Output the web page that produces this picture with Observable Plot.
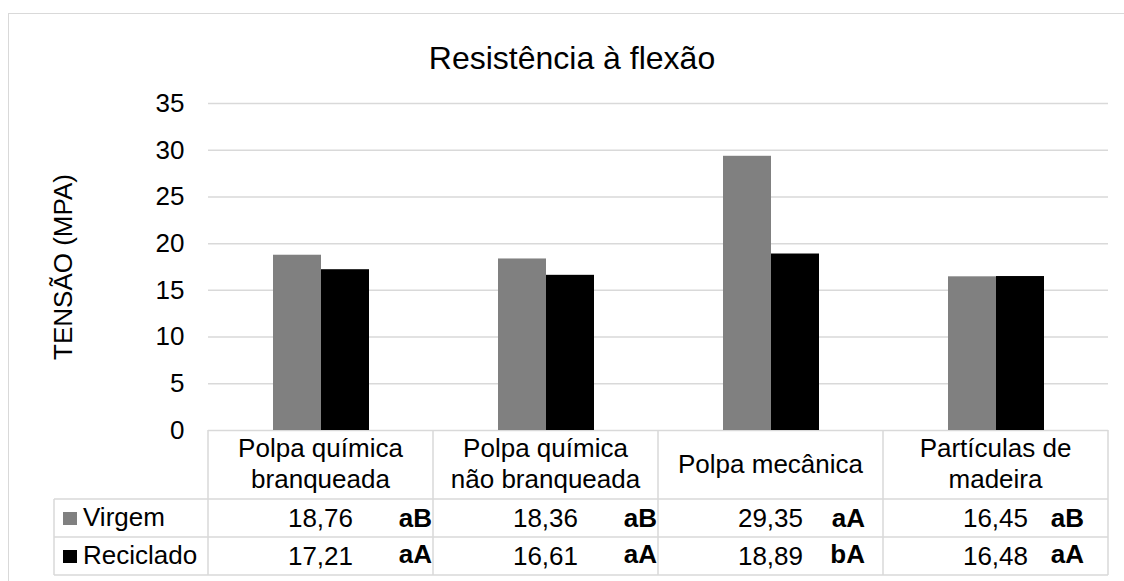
<!DOCTYPE html>
<html>
<head>
<meta charset="utf-8">
<script src="https://cdn.jsdelivr.net/npm/d3@7"></script>
<script src="https://cdn.jsdelivr.net/npm/@observablehq/plot@0.6"></script>
<style>
  html, body { margin: 0; padding: 0; background: #fff; overflow: hidden; width: 1124px; height: 581px; }
  #frame { position: absolute; left: 8px; top: 13px; width: 1300px; height: 800px;
           border-left: 1.5px solid #d9d9d9; border-top: 1.5px solid #d9d9d9; box-sizing: border-box; }
  #chart { position: absolute; left: 0; top: 0; }
</style>
</head>
<body>
<div id="frame"></div>
<div id="chart"></div>
<script>
// ---- data ----
const categories = ["Polpa química\nbranqueada", "Polpa química\nnão branqueada", "Polpa mecânica", "Partículas de\nmadeira"];
const series = ["Virgem", "Reciclado"];
const virgem = [18.76, 18.36, 29.35, 16.45];
const reciclado = [17.21, 16.61, 18.89, 16.48];
const virgemLetters = ["aB", "aB", "aA", "aB"];
const recicladoLetters = ["aA", "aA", "bA", "aA"];
const yTicks = [0, 5, 10, 15, 20, 25, 30, 35];
const titleText = "Resistência à flexão";
const yLabelText = "TENSÃO (MPA)";

// ---- style / layout ----
const seriesColors = ["#808080", "#000000"];
const FONT = "'Liberation Sans', Arial, Helvetica, sans-serif";
const GRID = "#d9d9d9";
const W = 1124, H = 581;
const headerH = 69, rowH = 38, legendLeft = 54;
const letterInset = [1, 1, 18, 24];

const data = categories.flatMap((c, i) => [
  {category: c, series: series[0], value: virgem[i]},
  {category: c, series: series[1], value: reciclado[i]}
]);

const chart = Plot.plot({
  width: W, height: H,
  marginLeft: 207, marginRight: 16, marginTop: 103, marginBottom: 151,
  style: {fontFamily: FONT, fontSize: "26px", color: "#000", background: "transparent", overflow: "visible"},
  fx: {domain: categories, padding: 0, axis: null, label: null},
  x: {domain: series, paddingInner: 0, paddingOuter: 1.32, axis: null},
  y: {domain: [0, 35], ticks: yTicks, tickSize: 0, tickPadding: 24, label: null},
  color: {domain: series, range: seriesColors},
  marks: [
    Plot.ruleY(yTicks, {stroke: GRID, strokeWidth: 1.5}),
    Plot.barY(data, {fx: "category", x: "series", y: "value", fill: "series"})
  ]
});
document.getElementById("chart").appendChild(chart);

// ---- table, title, axis label ----
const svg = d3.select(chart);
const fx = chart.scale("fx");
const ys = chart.scale("y");
const bw = fx.bandwidth;
const colLeft = categories.map(c => fx.apply(c));
const right = colLeft[colLeft.length - 1] + bw;
const zeroY = ys.apply(0);
const row1Top = zeroY + headerH;
const row2Top = row1Top + rowH;
const tableBottom = row2Top + rowH;

const g = svg.append("g").attr("font-family", FONT).attr("font-size", 26).attr("fill", "#000").attr("text-anchor", "start");
const lines = g.append("g").attr("stroke", GRID).attr("stroke-width", 1.5);
[...colLeft, right].forEach(x => lines.append("line").attr("x1", x).attr("x2", x).attr("y1", zeroY).attr("y2", tableBottom));
lines.append("line").attr("x1", legendLeft).attr("x2", legendLeft).attr("y1", row1Top).attr("y2", tableBottom);
[row1Top, row2Top, tableBottom].forEach(y => lines.append("line").attr("x1", legendLeft).attr("x2", right).attr("y1", y).attr("y2", y));

const fmt = v => v.toFixed(2).replace(".", ",");
categories.forEach((c, i) => {
  const cx = colLeft[i] + bw / 2;
  const parts = c.split("\n");
  const t = g.append("text").attr("text-anchor", "middle");
  if (parts.length === 1) {
    t.append("tspan").attr("x", cx).attr("y", zeroY + 43).text(parts[0]);
  } else {
    parts.forEach((p, k) => t.append("tspan").attr("x", cx).attr("y", zeroY + 27 + k * 31).text(p));
  }
  const cr = colLeft[i] + bw;
  [[virgem, virgemLetters, row1Top, 0], [reciclado, recicladoLetters, row2Top, 2]].forEach(([vals, lets, top, lift]) => {
    g.append("text").attr("text-anchor", "end").attr("x", cr - 80).attr("y", top + 28).text(fmt(vals[i]));
    g.append("text").attr("text-anchor", "end").attr("font-weight", "bold")
      .attr("x", cr - letterInset[i]).attr("y", top + 28 - lift).text(lets[i]);
  });
});

series.forEach((s, k) => {
  const top = k === 0 ? row1Top : row2Top;
  g.append("rect").attr("x", legendLeft + 9).attr("y", top + 13).attr("width", 14).attr("height", 13).attr("fill", seriesColors[k]);
  g.append("text").attr("text-anchor", "start").attr("x", legendLeft + 29).attr("y", top + 27).text(s);
});

g.append("text").attr("text-anchor", "middle").attr("font-size", 32).attr("x", 572).attr("y", 69).text(titleText);
g.append("text").attr("text-anchor", "middle").attr("transform", "translate(72,267) rotate(-90)").text(yLabelText);
</script>
</body>
</html>
